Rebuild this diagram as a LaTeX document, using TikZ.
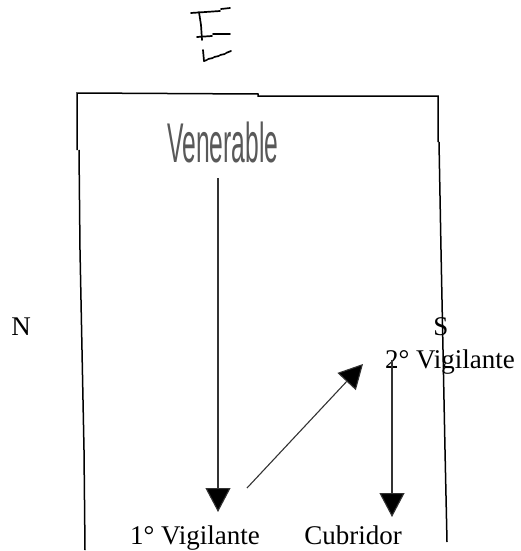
\documentclass[tikz,border=0pt]{standalone}
\usepackage{fontspec}
\setmainfont{Liberation Serif}
\newfontfamily\venfont{Liberation Sans}
\usetikzlibrary{arrows.meta}
\tikzset{
  lbl/.style={font=\fontsize{27}{30}\selectfont, inner sep=0pt, anchor=base},
  wall/.style={line width=1.5pt, black},
  pen/.style={line width=1.7pt, black, line cap=round, line join=round},
  arr/.style={line width=1.1pt, black!80, -{Triangle[length=24pt,width=25pt,fill=black]}},
}
\begin{document}
\begin{tikzpicture}[x=1pt,y=-1pt]
\useasboundingbox (0,0) rectangle (520,551);
% hand-drawn E
\draw[pen] (191,13) -- (220,11) (221,9) -- (230,8);
\draw[pen] (199,12) -- (201,25) -- (202,40) (203,50) -- (204,61);
\draw[pen] (197,37) -- (212,36) (213,34) -- (230,34);
\draw[pen] (204,61) -- (207,60) (208,59) -- (213,58) (214,57) -- (219,56) (220,55) -- (225,54) (226,53) -- (231,51);
% room walls
\draw[wall] (77,150) -- (77,93) -- (258,94) -- (258,96) -- (438,96) -- (438,142);
\draw[wall] (79,150) -- (80,250) -- (82,350) -- (84,450) -- (85,550);
\draw[wall] (439,142) -- (441,250) -- (443,350) -- (445,450) -- (447,542);
% labels
\node[inner sep=0pt, text=black!65] (ven) at (223,142) {\venfont\scalebox{0.44}[1]{\fontsize{56}{60}\selectfont Venerable}};
\node[lbl] (n) at (21,335) {N};
\node[lbl] (s) at (441,335) {S};
\node[lbl] (v2) at (450,368) {2° Vigilante};
\node[lbl] (v1) at (195,544) {1° Vigilante};
\node[lbl] (cub) at (353,544) {Cubridor};
% connector ends
\coordinate (a1s) at (218,178);
\coordinate (a1e) at (218,512);
\coordinate (a2s) at (247,488);
\coordinate (a2e) at (363,364);
\coordinate (a3s) at (392,360);
\coordinate (a3e) at (392,517);
\draw[arr] (a1s) -- (a1e);
\draw[arr] (a2s) -- (a2e);
\draw[arr] (a3s) -- (a3e);
\end{tikzpicture}
\end{document}
